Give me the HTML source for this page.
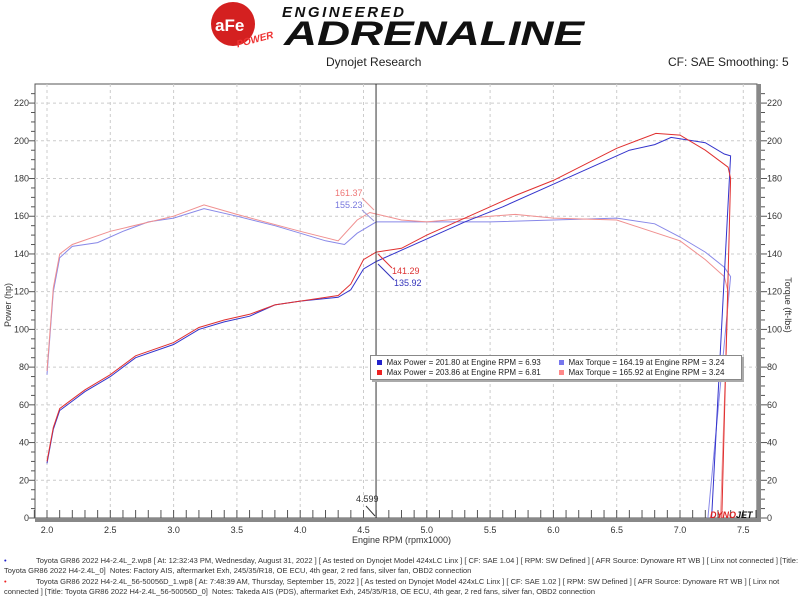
<!DOCTYPE html><html><head><meta charset="utf-8"><style>
body{margin:0;width:800px;height:600px;background:#fff;overflow:hidden;font-family:"Liberation Sans",sans-serif;position:relative}
.t{position:absolute;white-space:nowrap}
</style></head><body>
<svg width="800" height="600" style="position:absolute;left:0;top:0" id="s">
<circle cx="233" cy="24" r="22" fill="#d42020"/>
<text x="215" y="31" font-size="17" font-weight="bold" fill="#fff" font-family="Liberation Sans">aFe</text>
<text x="236" y="44" font-size="10" font-weight="bold" font-style="italic" fill="#e33" font-family="Liberation Sans" transform="rotate(-15 250 40)">POWER</text>
<text x="282" y="17" font-size="15" font-weight="bold" font-style="italic" fill="#111" font-family="Liberation Sans" textLength="122">ENGINEERED</text>
<text x="284" y="45" font-size="34" font-weight="bold" font-style="italic" fill="#111" font-family="Liberation Sans" textLength="300" lengthAdjust="spacingAndGlyphs">ADRENALINE</text>
<g id="g"></g>
</svg>
<div class="t" style="left:326px;top:55px;font-size:12px;color:#222">Dynojet Research</div>
<div class="t" style="left:668px;top:55px;font-size:12px;color:#222">CF: SAE Smoothing: 5</div>
<div class="t" style="left:352px;top:535px;font-size:9px;color:#333">Engine RPM (rpmx1000)</div>
<div class="t" style="left:-14px;top:300px;font-size:9px;color:#333;transform:rotate(-90deg)">Power (hp)</div>
<div class="t" style="left:760px;top:300px;font-size:9px;color:#333;transform:rotate(90deg)">Torque (ft-lbs)</div>
<div style="position:absolute;left:370px;top:355px;width:370px;height:23px;background:#fff;border:1px solid #888;box-shadow:2px 2px 0 #aaa;font-size:8px;color:#222">
<div class="t" style="left:6px;top:2px"><span style="display:inline-block;width:5px;height:5px;background:#22c"></span>&nbsp; Max Power = 201.80 at Engine RPM = 6.93</div>
<div class="t" style="left:6px;top:12px"><span style="display:inline-block;width:5px;height:5px;background:#e22"></span>&nbsp; Max Power = 203.86 at Engine RPM = 6.81</div>
<div class="t" style="left:188px;top:2px"><span style="display:inline-block;width:5px;height:5px;background:#77e"></span>&nbsp; Max Torque = 164.19 at Engine RPM = 3.24</div>
<div class="t" style="left:188px;top:12px"><span style="display:inline-block;width:5px;height:5px;background:#f88"></span>&nbsp; Max Torque = 165.92 at Engine RPM = 3.24</div>
</div>
<div style="position:absolute;left:0;top:556px;width:800px;font-size:7.5px;color:#333;line-height:10.5px">
<div class="t" style="left:4px;top:0;color:#22c">•</div>
<div class="t" style="left:36px;top:0">Toyota GR86 2022 H4-2.4L_2.wp8 [ At: 12:32:43 PM, Wednesday, August 31, 2022 ] [ As tested on Dynojet Model 424xLC Linx ] [ CF: SAE 1.04 ] [ RPM: SW Defined ] [ AFR Source: Dynoware RT WB ] [ Linx not connected ] [Title:</div>
<div class="t" style="left:4px;top:10px">Toyota GR86 2022 H4-2.4L_0]&nbsp; Notes: Factory AIS, aftermarket Exh, 245/35/R18, OE ECU, 4th gear, 2 red fans, silver fan, OBD2 connection</div>
<div class="t" style="left:4px;top:21px;color:#e22">•</div>
<div class="t" style="left:36px;top:21px">Toyota GR86 2022 H4-2.4L_56-50056D_1.wp8 [ At: 7:48:39 AM, Thursday, September 15, 2022 ] [ As tested on Dynojet Model 424xLC Linx ] [ CF: SAE 1.02 ] [ RPM: SW Defined ] [ AFR Source: Dynoware RT WB ] [ Linx not</div>
<div class="t" style="left:4px;top:31px">connected ] [Title: Toyota GR86 2022 H4-2.4L_56-50056D_0]&nbsp; Notes: Takeda AIS (PDS), aftermarket Exh, 245/35/R18, OE ECU, 4th gear, 2 red fans, silver fan, OBD2 connection</div>
</div>
<script>
var X=r=>47+(r-2)*126.6, Y=v=>518-v*1.886;
var h='';
h+='<rect x="35" y="84" width="722" height="434" fill="none" stroke="#555" stroke-width="1"/>';
for(var r=2;r<=7.51;r+=0.5)h+='<line x1="'+X(r)+'" y1="84" x2="'+X(r)+'" y2="518" stroke="#ccc" stroke-dasharray="3,3"/>';
for(var v=20;v<=220;v+=20)h+='<line x1="35" y1="'+Y(v)+'" x2="757" y2="'+Y(v)+'" stroke="#ccc" stroke-dasharray="3,3"/>';
h+='<rect x="35" y="518" width="726" height="4" fill="#888"/><rect x="757" y="84" width="4" height="438" fill="#888"/>';
for(var v=0;v<=225;v+=5){var l=v%20==0?6:4;h+='<line x1="'+(35-l)+'" y1="'+Y(v)+'" x2="35" y2="'+Y(v)+'" stroke="#555"/><line x1="761" y1="'+Y(v)+'" x2="'+(761+l)+'" y2="'+Y(v)+'" stroke="#555"/>';
if(v%20==0){h+='<text x="29" y="'+(Y(v)+3)+'" font-size="9" text-anchor="end" fill="#333" font-family="Liberation Sans">'+v+'</text><text x="767" y="'+(Y(v)+3)+'" font-size="9" fill="#333" font-family="Liberation Sans">'+v+'</text>';}}
for(var r=1.9;r<=7.61;r+=0.1){h+='<line x1="'+X(r)+'" y1="510" x2="'+X(r)+'" y2="518" stroke="#555"/>';}
for(var r=2;r<=7.51;r+=0.5)h+='<text x="'+X(r)+'" y="533" font-size="9" text-anchor="middle" fill="#333" font-family="Liberation Sans">'+r.toFixed(1)+'</text>';
function P(a,c,w){return '<polyline fill="none" stroke="'+c+'" stroke-width="'+(w||1)+'" points="'+a.map(p=>X(p[0]).toFixed(1)+','+Y(p[1]).toFixed(1)).join(' ')+'"/>';}
var tb=[[2,76],[2.05,120],[2.1,138],[2.2,144],[2.4,146],[2.6,152],[2.8,157],[3,159],[3.24,164],[3.5,160],[3.8,155],[4,151],[4.2,147],[4.35,145],[4.45,151],[4.6,157],[4.8,157],[5,157],[5.5,157],[6,158],[6.5,159],[6.8,156],[7,149],[7.2,141],[7.35,133],[7.4,128],[7.22,0]];
var tr=[[2,78],[2.05,122],[2.1,140],[2.2,145],[2.5,152],[3,160],[3.24,166],[3.5,161],[4,152],[4.3,147],[4.45,158],[4.55,162],[4.8,158],[5,157],[5.5,160],[5.7,161],[6,159],[6.5,158],[7,147],[7.2,137],[7.35,128],[7.38,120],[7.32,0]];
var pb=[[2,29],[2.05,47],[2.1,57],[2.2,62],[2.3,67],[2.5,75],[2.7,85],[3,92],[3.2,100],[3.4,104],[3.6,107],[3.8,113],[4,115],[4.3,117],[4.4,121],[4.5,132],[4.6,136],[4.8,142],[5,148],[5.3,157],[5.6,165],[6,177],[6.3,186],[6.6,195],[6.8,198],[6.93,201.8],[7.1,200],[7.2,199],[7.35,193],[7.4,192],[7.25,0]];
var pr=[[2,30],[2.05,48],[2.1,58],[2.2,63],[2.3,68],[2.5,76],[2.7,86],[3,93],[3.2,101],[3.4,105],[3.6,108],[3.8,113],[4,115],[4.3,118],[4.4,124],[4.5,137],[4.6,141],[4.8,143],[5,150],[5.5,165],[5.7,171],[6,179],[6.5,196],[6.81,203.9],[7,203],[7.2,195],[7.38,186],[7.4,180],[7.33,0]];
h+=P(tb,'#8888e8')+P(tr,'#f09090')+P(pb,'#3333cc')+P(pr,'#e03030');
h+='<line x1="'+X(4.599)+'" y1="84" x2="'+X(4.599)+'" y2="518" stroke="#333"/>';
h+='<text x="335" y="196" font-size="9" fill="#e77" font-family="Liberation Sans">161.37</text><text x="335" y="208" font-size="9" fill="#77d" font-family="Liberation Sans">155.23</text>';
h+='<line x1="362" y1="198" x2="374" y2="210" stroke="#e99"/><line x1="362" y1="210" x2="374" y2="221" stroke="#99d"/>';
h+='<text x="392" y="274" font-size="9" fill="#d33" font-family="Liberation Sans">141.29</text><text x="394" y="286" font-size="9" fill="#33b" font-family="Liberation Sans">135.92</text>';
h+='<line x1="378" y1="254" x2="392" y2="268" stroke="#d33"/><line x1="378" y1="264" x2="394" y2="280" stroke="#33b"/>';
h+='<text x="356" y="502" font-size="9" fill="#333" font-family="Liberation Sans">4.599</text><line x1="366" y1="506" x2="375" y2="516" stroke="#333"/>';
h+='<text x="710" y="518" font-size="9" font-weight="bold" font-style="italic" fill="#d22" font-family="Liberation Sans">DYNO<tspan fill="#111">JET</tspan></text>';
document.getElementById('g').innerHTML=h;
</script>
</body></html>
